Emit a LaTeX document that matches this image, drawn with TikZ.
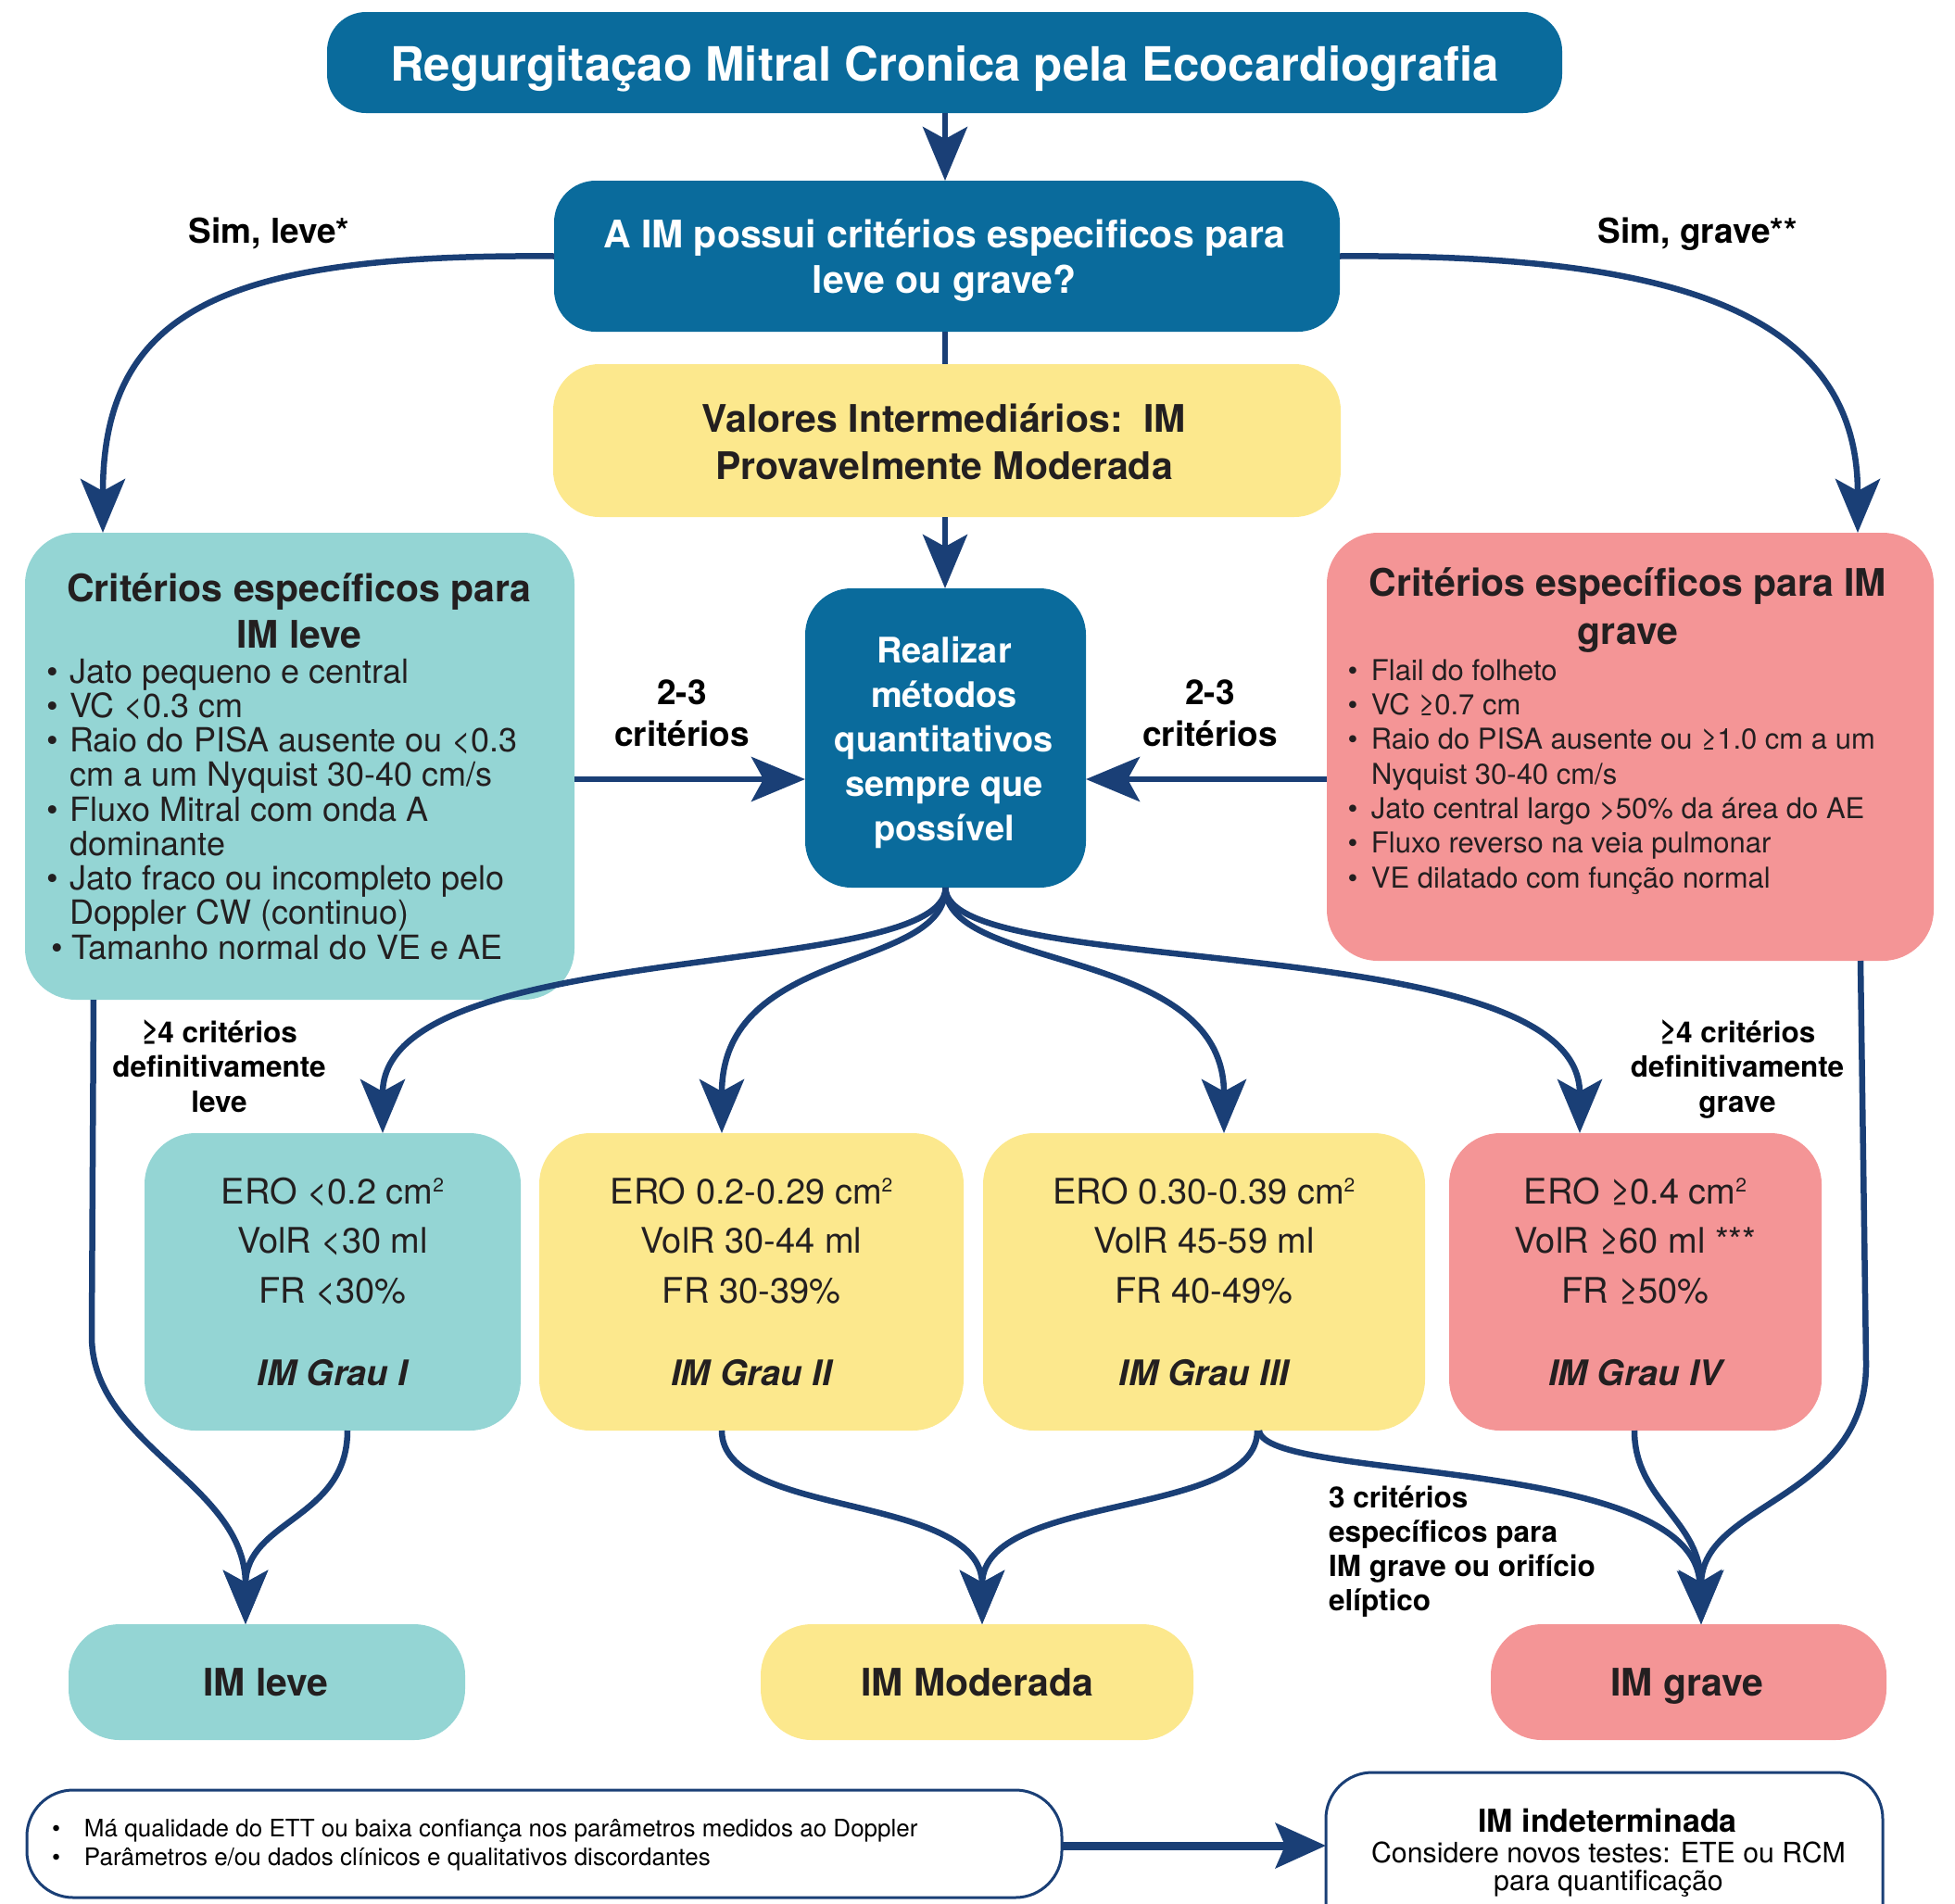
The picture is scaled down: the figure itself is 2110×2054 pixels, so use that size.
\documentclass[tikz,border=0pt]{standalone}
\usepackage{fontspec}
\setmainfont{TeX Gyre Heros}
\usetikzlibrary{arrows.meta}
\definecolor{dblue}{HTML}{0A6B9C}
\definecolor{navy}{HTML}{1A3F76}
\definecolor{teal2}{HTML}{94D5D4}
\definecolor{yel}{HTML}{FCE88D}
\definecolor{pnk}{HTML}{F49596}
\definecolor{txt}{HTML}{231F20}
\newcommand\myfs[2]{\fontsize{#1}{#2}\selectfont}
\newcommand\bul[1]{\makebox[#1][l]{\textbullet}}
\newcommand\sqr{\raisebox{13pt}{\myfs{21}{21}2}}
\begin{document}
\begin{tikzpicture}[x=1pt,y=-1pt,line join=round,
  boxst/.style={inner sep=0pt, outer sep=0pt, draw=none},
  conn/.style={draw=navy, line width=6.5pt},
  arr/.style={-{Stealth[length=58pt,width=48pt,inset=13pt]}},
  txtst/.style={inner sep=0pt, outer sep=0pt, anchor=base, align=center, text=txt},
  lst/.style={inner sep=0pt, outer sep=0pt, anchor=base west, align=left, text=txt},
  lbl/.style={inner sep=0pt, outer sep=0pt, anchor=base, align=center, text=black, font=\bfseries\myfs{37}{45}},
]
\useasboundingbox (0,0) rectangle (2110,2054);

% ---------- boxes ----------
\node[boxst, fill=dblue, minimum width=1333pt, minimum height=109pt, rounded corners=42pt] (title) at (1019.5,67.5) {};
\node[boxst, fill=dblue, minimum width=848pt, minimum height=163pt, rounded corners=45pt] (quest) at (1022,276.5) {};
\node[boxst, fill=yel, minimum width=850pt, minimum height=165pt, rounded corners=50pt] (inter) at (1022,475.5) {};
\node[boxst, fill=dblue, minimum width=303pt, minimum height=323pt, rounded corners=50pt] (real) at (1020.5,796.5) {};
\node[boxst, fill=teal2, minimum width=593pt, minimum height=504pt, rounded corners=55pt] (lcrit) at (323.5,827) {};
\node[boxst, fill=pnk, minimum width=655pt, minimum height=462pt, rounded corners=55pt] (rcrit) at (1759.5,806) {};
\node[boxst, fill=teal2, minimum width=406pt, minimum height=321pt, rounded corners=55pt] (g1) at (359,1383.5) {};
\node[boxst, fill=yel, minimum width=458pt, minimum height=321pt, rounded corners=55pt] (g2) at (811,1383.5) {};
\node[boxst, fill=yel, minimum width=477pt, minimum height=321pt, rounded corners=55pt] (g3) at (1299.5,1383.5) {};
\node[boxst, fill=pnk, minimum width=402pt, minimum height=321pt, rounded corners=55pt] (g4) at (1765,1383.5) {};
\node[boxst, fill=teal2, minimum width=428pt, minimum height=125pt, rounded corners=55pt] (f1) at (288,1815.5) {};
\node[boxst, fill=yel, minimum width=467pt, minimum height=125pt, rounded corners=55pt] (f2) at (1054.5,1815.5) {};
\node[boxst, fill=pnk, minimum width=427pt, minimum height=125pt, rounded corners=55pt] (f3) at (1822.5,1815.5) {};
\node[boxst, draw=navy, line width=3pt, fill=white, minimum width=1117pt, minimum height=116pt, rounded corners=50pt] (bl) at (587.5,1990) {};
\begin{scope}
\clip (0,0) rectangle (2110,2054);
\node[boxst, draw=navy, line width=3pt, fill=white, minimum width=601pt, minimum height=200pt, rounded corners=50pt] (br) at (1731.5,2013) {};
\end{scope}

% ---------- connectors ----------
\draw[conn, line width=6pt, arr] (1020,0 |- title.south) -- (1020,0 |- quest.north);
\draw[conn, line width=6pt] (1020,0 |- quest.south) -- (1020,0 |- inter.north);
\draw[conn, line width=6pt, arr] (1020,0 |- inter.south) -- (1020,0 |- real.north);

\draw[conn, arr] (quest.west) .. controls (250,274) and (111,330) .. (111,0 |- lcrit.north);
\draw[conn, arr] (quest.east) .. controls (1792,274) and (2005,330) .. (2005,0 |- rcrit.north);

\draw[conn, arr] (lcrit.east |- 0,841) -- (real.west |- 0,841);
\draw[conn, arr] (rcrit.west |- 0,841) -- (real.east |- 0,841);

\draw[conn, arr] (real.south) .. controls (1020,1060) and (413,1010) .. (413,0 |- g1.north);
\draw[conn, arr] (real.south) .. controls (1020,1050) and (779,1020) .. (779,0 |- g2.north);
\draw[conn, arr] (real.south) .. controls (1020,1050) and (1321,1020) .. (1321,0 |- g3.north);
\draw[conn, arr] (real.south) .. controls (1020,1060) and (1705,1000) .. (1705,0 |- g4.north);

\draw[conn, arr] (101,0 |- lcrit.south) -- (99,1440) .. controls (97,1560) and (265,1600) .. (265,0 |- f1.north);
\draw[conn, arr] (375,0 |- g1.south) .. controls (375,1640) and (265,1640) .. (265,0 |- f1.north);
\draw[conn, arr] (779,0 |- g2.south) .. controls (779,1640) and (1060,1610) .. (1060,0 |- f2.north);
\draw[conn, arr] (1357,0 |- g3.south) .. controls (1357,1640) and (1060,1610) .. (1060,0 |- f2.north);
\draw[conn, arr] (1359,0 |- g3.south) .. controls (1365,1600) and (1830,1570) .. (1836,0 |- f3.north);
\draw[conn, arr] (1764,0 |- g4.south) .. controls (1764,1620) and (1836,1640) .. (1836,0 |- f3.north);
\draw[conn, arr] (2008,0 |- rcrit.south) -- (2014,1470) .. controls (2016,1620) and (1836,1620) .. (1836,0 |- f3.north);

\draw[conn, line width=9pt, -{Stealth[length=54pt,width=48pt,inset=10pt]}] (bl.east |- 0,1992) -- (br.west |- 0,1992);

% ---------- texts (multi-line nodes: base = last line) ----------
\node[txtst, text=white, font=\bfseries\myfs{51}{61}] (titlet) at (1019.5,87) {Regurgitaçao Mitral Cronica pela Ecocardiografia};
\node[txtst, text=white, font=\bfseries\myfs{41}{49}] (questt) at (1019,316) {A IM possui critérios especificos para\\leve ou grave?};
\node[txtst, font=\bfseries\myfs{41}{51}] (intert) at (1019,517) {Valores Intermediários:\ \ IM\\Provavelmente Moderada};
\node[txtst, text=white, font=\bfseries\myfs{38}{48}] (realt) at (1019,907) {Realizar\\métodos\\quantitativos\\sempre que\\possível};

\node[txtst, font=\bfseries\myfs{41}{50}] (lcritt) at (323,699) {Critérios específicos para\\IM leve};
\node[lst, font=\myfs{36}{37.25}] (lcritl) at (50,1035) {\bul{25.5pt}Jato pequeno e central\\
\bul{25.5pt}VC <0.3 cm\\
\bul{25.5pt}Raio do PISA ausente ou <0.3\\
\hspace*{25.5pt}cm a um Nyquist 30-40 cm/s\\
\bul{25.5pt}Fluxo Mitral com onda A\\
\hspace*{25.5pt}dominante\\
\bul{25.5pt}Jato fraco ou incompleto pelo\\
\hspace*{25.5pt}Doppler CW (continuo)\\
\hspace*{5pt}\bul{22.5pt}Tamanho normal do VE e AE};

\node[txtst, font=\bfseries\myfs{41}{52}] (rcritt) at (1757,695) {Critérios específicos para IM\\grave};
\node[lst, font=\myfs{31}{37.3}] (rcritl) at (1454.5,958) {\bul{25.5pt}Flail do folheto\\
\bul{25.5pt}VC ≥0.7 cm\\
\bul{25.5pt}Raio do PISA ausente ou ≥1.0 cm a um\\
\hspace*{25.5pt}Nyquist 30-40 cm/s\\
\bul{25.5pt}Jato central largo >50\% da área do AE\\
\bul{25.5pt}Fluxo reverso na veia pulmonar\\
\bul{25.5pt}VE dilatado com função normal};

\node[lbl] (siml) at (290.5,262) {Sim, leve*};
\node[lbl] (simr) at (1832,262) {Sim, grave**};
\node[lbl] (twol) at (736,805) {2-3\\critérios};
\node[lbl] (twor) at (1306,805) {2-3\\critérios};
\node[lbl, font=\bfseries\myfs{31.5}{37.5}] (gel) at (236.5,1200) {≥4 critérios\\definitivamente\\leve};
\node[lbl, font=\bfseries\myfs{31.5}{37.5}] (ger) at (1875,1200) {≥4 critérios\\definitivamente\\grave};
\node[lbl, anchor=base west, align=left, font=\bfseries\myfs{31.5}{37}] (three) at (1434,1738) {3 critérios\\específicos para\\IM grave ou orifício\\elíptico};

\node[txtst, font=\myfs{38}{53.5}] (g1t) at (359,1495) {ERO <0.2 cm\sqr\\VolR <30 ml\\FR <30\%\\[35.5pt]{\bfseries\itshape IM Grau I}};
\node[txtst, font=\myfs{38}{53.5}] (g2t) at (811,1495) {ERO 0.2-0.29 cm\sqr\\VolR 30-44 ml\\FR 30-39\%\\[35.5pt]{\bfseries\itshape IM Grau II}};
\node[txtst, font=\myfs{38}{53.5}] (g3t) at (1299.5,1495) {ERO 0.30-0.39 cm\sqr\\VolR 45-59 ml\\FR 40-49\%\\[35.5pt]{\bfseries\itshape IM Grau III}};
\node[txtst, font=\myfs{38}{53.5}] (g4t) at (1765,1495) {ERO ≥0.4 cm\sqr\\VolR ≥60 ml ***\\FR ≥50\%\\[35.5pt]{\bfseries\itshape IM Grau IV}};

\node[txtst, font=\bfseries\myfs{41}{50}] (f1t) at (287,1830) {IM leve};
\node[txtst, font=\bfseries\myfs{41}{50}] (f2t) at (1054.5,1830) {IM Moderada};
\node[txtst, font=\bfseries\myfs{41}{50}] (f3t) at (1821,1830) {IM grave};

\node[lst, text=black, font=\myfs{26}{31}] (blt) at (56,2013) {\bul{35pt}Má qualidade do ETT ou baixa confiança nos parâmetros medidos ao Doppler\\
\bul{35pt}Parâmetros e/ou dados clínicos e qualitativos discordantes};
\node[txtst, text=black, font=\bfseries\myfs{34}{40}] (brt) at (1735,1977) {IM indeterminada};
\node[txtst, text=black, font=\myfs{30.3}{30.5}] (brb) at (1736,2040.5) {Considere novos testes: ETE ou RCM\\para quantificação};
\end{tikzpicture}
\end{document}
